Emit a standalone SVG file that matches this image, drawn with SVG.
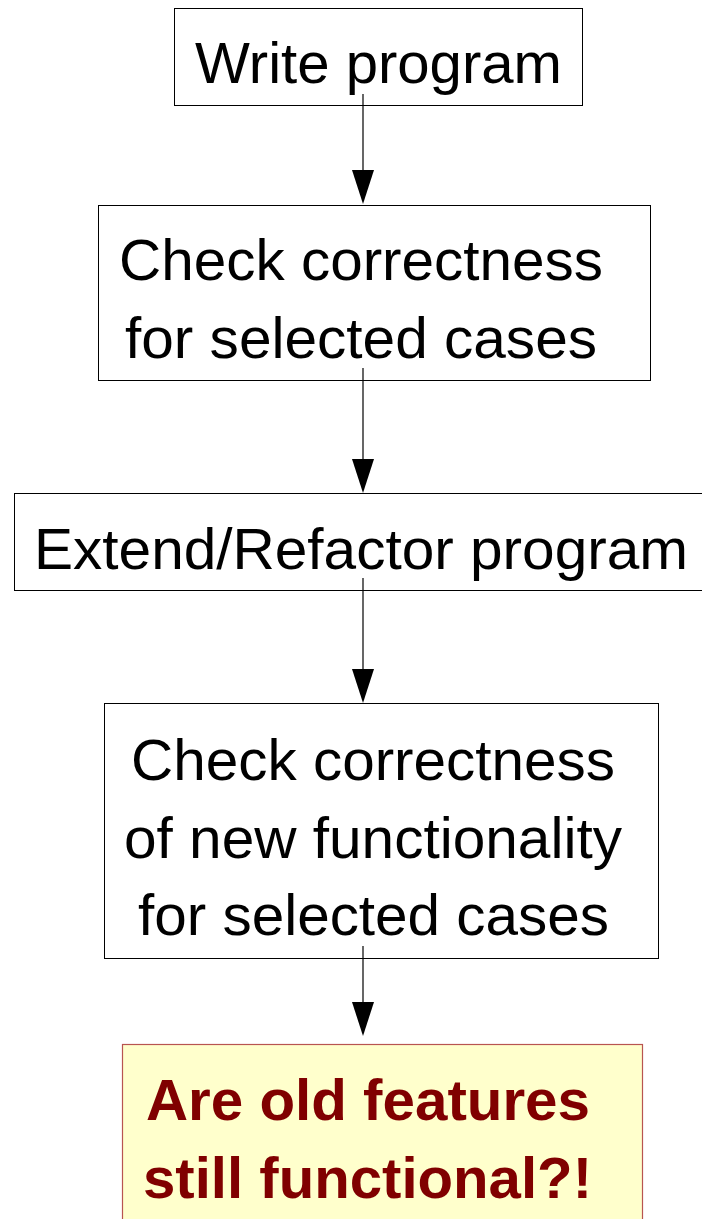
<svg xmlns="http://www.w3.org/2000/svg" width="702" height="1219" viewBox="0 0 702 1219">
<style>
.box{fill:#ffffff;stroke:#000000;stroke-width:1}
.warn{fill:#ffffcc;stroke:#b85450;stroke-width:1.2}
.t{font-family:"Liberation Sans",Arial,sans-serif;font-size:57px;fill:#000000;text-anchor:middle}
.b{font-family:"Liberation Sans",Arial,sans-serif;font-size:57px;font-weight:bold;fill:#800000;text-anchor:middle}
.conn{stroke:#000000;stroke-width:1.2;fill:none}
.head{fill:#000000}
</style>
<g id="n1">
<rect class="box" x="174.5" y="8.5" width="408" height="97"/>
<text class="t" x="378.5" y="83" textLength="367" lengthAdjust="spacingAndGlyphs">Write program</text>
</g>
<g id="n2">
<rect class="box" x="98.5" y="205.5" width="552" height="175"/>
<text class="t" x="361" y="280" textLength="484" lengthAdjust="spacingAndGlyphs">Check correctness</text>
<text class="t" x="361" y="358" textLength="472" lengthAdjust="spacingAndGlyphs">for selected cases</text>
</g>
<g id="n3">
<rect class="box" x="14.5" y="493.5" width="700" height="97"/>
<text class="t" x="361" y="569" textLength="654" lengthAdjust="spacingAndGlyphs">Extend/Refactor program</text>
</g>
<g id="n4">
<rect class="box" x="104.5" y="703.5" width="554" height="255"/>
<text class="t" x="373" y="780" textLength="484" lengthAdjust="spacingAndGlyphs">Check correctness</text>
<text class="t" x="373" y="858" textLength="498" lengthAdjust="spacingAndGlyphs">of new functionality</text>
<text class="t" x="373.5" y="935" textLength="471" lengthAdjust="spacingAndGlyphs">for selected cases</text>
</g>
<g id="n5">
<rect class="warn" x="122.5" y="1044.5" width="520" height="200"/>
<text class="b" x="368" y="1120" textLength="444" lengthAdjust="spacingAndGlyphs">Are old features</text>
<text class="b" x="367.5" y="1198" textLength="449" lengthAdjust="spacingAndGlyphs">still functional?!</text>
</g>
<g id="connectors">
<line class="conn" x1="363" y1="94" x2="363" y2="171"/>
<path class="head" d="M352,170 L374,170 L363,204 Z"/>
<line class="conn" x1="363" y1="368" x2="363" y2="460"/>
<path class="head" d="M352,459 L374,459 L363,493 Z"/>
<line class="conn" x1="363" y1="578" x2="363" y2="670"/>
<path class="head" d="M352,669 L374,669 L363,703 Z"/>
<line class="conn" x1="363" y1="946" x2="363" y2="1003"/>
<path class="head" d="M352,1002 L374,1002 L363,1036 Z"/>
</g>
</svg>
